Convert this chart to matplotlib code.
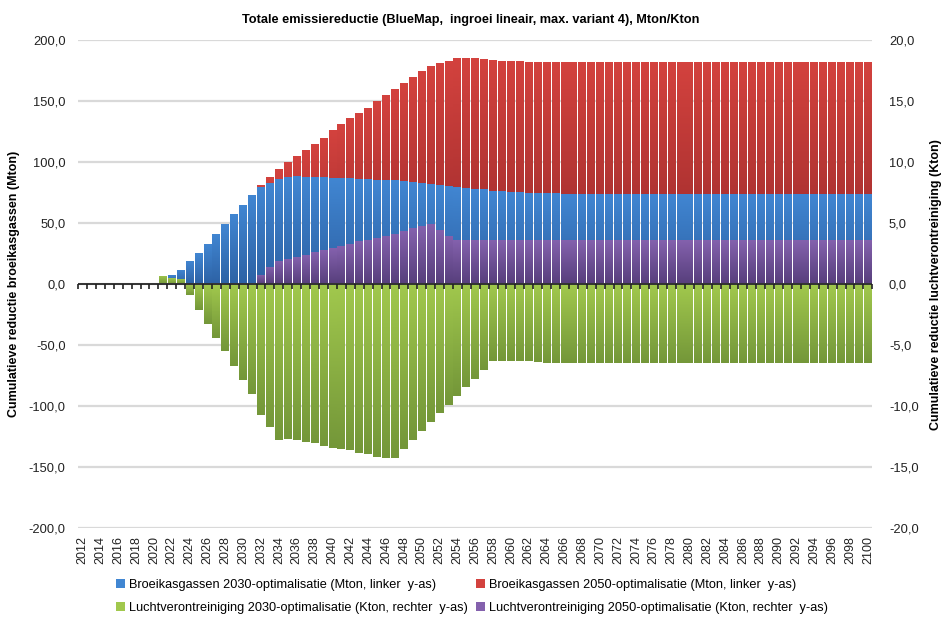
import numpy as np
import matplotlib
matplotlib.use("Agg")
import matplotlib.pyplot as plt
from matplotlib.colors import LinearSegmentedColormap
from matplotlib.ticker import FuncFormatter

plt.rcParams['font.family'] = ['Liberation Sans', 'DejaVu Sans']

years = list(range(2012, 2101))

# broeikasgassen 2030-optimalisatie (Mton), from 2022 on
ghg_2030 = [0.0] * 10 + [
    7.4, 11.5, 18.9, 25.4, 32.8, 41.0, 49.4, 57.6, 65.0, 73.2,
    79.8, 83.0, 86.3, 88.0, 89.0, 88.0, 88.0, 88.0, 87.3, 87.3,
    87.3, 86.5, 86.5, 85.7, 85.7, 85.7, 84.8, 84.0, 83.2, 82.4,
    81.6, 80.7, 79.9, 79.0, 78.3, 78.3, 76.6, 76.6, 75.8, 75.8,
    75.0, 75.0, 75.0, 75.0] + [74.0] * 35

# broeikasgassen 2050-optimalisatie (Mton), from 2032 on
ghg_2050 = [0.0] * 20 + [
    81.4, 88.0, 94.3, 100.0, 105.0, 110.0, 115.0, 120.0, 126.0, 131.0,
    136.0, 140.0, 144.7, 150.4, 155.3, 160.2, 165.0, 170.0, 175.0, 179.0,
    181.6, 183.2, 185.7, 185.7, 185.7, 184.8, 184.0, 183.2, 183.2, 183.2,
    182.4, 182.4, 182.4, 182.4] + [182.0] * 35

# luchtverontreiniging 2030-optimalisatie (Kton), from 2021 on
air_2030 = [0.0] * 9 + [
    0.68, 0.49, 0.43, -0.88, -2.10, -3.23, -4.40, -5.52, -6.70, -7.82,
    -8.97, -10.69, -11.74, -12.80, -12.73, -12.80, -12.98, -13.06, -13.23, -13.39,
    -13.55, -13.63, -13.80, -13.96, -14.13, -14.28, -14.28, -13.55, -12.80, -12.06,
    -11.33, -10.59, -9.93, -9.20, -8.47, -7.74, -7.00, -6.33, -6.33, -6.33,
    -6.33, -6.33, -6.42] + [-6.45] * 37

# luchtverontreiniging 2050-optimalisatie (Kton), from 2032 on
air_2050 = [0.0] * 20 + [
    0.74, 1.42, 1.89, 2.05, 2.20, 2.36, 2.60, 2.78, 2.95, 3.10,
    3.25, 3.50, 3.65, 3.81, 3.98, 4.14, 4.39, 4.57, 4.74, 4.90,
    4.41, 3.98] + [3.59] * 47

labels = [
    "Broeikasgassen 2030-optimalisatie (Mton, linker  y-as)",
    "Broeikasgassen 2050-optimalisatie (Mton, linker  y-as)",
    "Luchtverontreiniging 2030-optimalisatie (Kton, rechter  y-as)",
    "Luchtverontreiniging 2050-optimalisatie (Kton, rechter  y-as)",
]

# (top colour, bottom colour) of the bar gradients
blue = ("#4186d2", "#2d62a5")
red = ("#d3423e", "#98292a")
green = ("#a1c84d", "#749739")
purple = ("#8461ad", "#573f7c")

x = np.arange(len(years))


def gradient_bars(ax, vals, cols, z):
    bars = ax.bar(x, vals, width=0.88, color=cols[0], linewidth=0, zorder=z)
    cmap = LinearSegmentedColormap.from_list("g", [cols[0], cols[1]])
    grad = np.linspace(0, 1, 64).reshape(-1, 1)
    for b in bars:
        h = b.get_height()
        if h == 0:
            continue
        y0 = min(b.get_y(), b.get_y() + h)
        y1 = max(b.get_y(), b.get_y() + h)
        im = ax.imshow(grad, cmap=cmap, aspect="auto", origin="upper",
                       extent=[b.get_x(), b.get_x() + b.get_width(), y0, y1],
                       zorder=z + 0.1, interpolation="bilinear")
        im.set_clip_path(b)
    return bars


fig = plt.figure(figsize=(9.41, 6.17), dpi=100)
ax = fig.add_axes([0.083, 0.144, 0.844, 0.791])
ax2 = ax.twinx()

h_red = gradient_bars(ax, ghg_2050, red, 2)
h_blue = gradient_bars(ax, ghg_2030, blue, 3)
h_green = gradient_bars(ax2, air_2030, green, 2)
h_purple = gradient_bars(ax2, air_2050, purple, 3)

ax.set_xlim(-0.5, len(years) - 0.5)
ax.set_ylim(-200, 200)
ax2.set_ylim(-20, 20)
ax.set_yticks(np.arange(-200, 201, 50))
ax2.set_yticks(np.arange(-20, 21, 5))

fmt = FuncFormatter(lambda v, p: f"{v:.1f}".replace(".", ","))
ax.yaxis.set_major_formatter(fmt)
ax2.yaxis.set_major_formatter(fmt)

ax.set_axisbelow(True)
ax.yaxis.grid(True, color="#d9d9d9", linewidth=1.6)
for a in (ax, ax2):
    for s in a.spines.values():
        s.set_visible(False)
ax.tick_params(axis="y", length=0, labelsize=9.3, pad=9, colors="#222222")
ax2.tick_params(axis="y", length=0, labelsize=9.3, pad=12, colors="#222222")

ax.set_xticks(x[::2])
ax.set_xticklabels([str(y) for y in years[::2]], rotation=90, fontsize=9)
ax.tick_params(axis="x", length=0, pad=6, colors="#222222")

# zero axis with category tick marks, drawn above all bars
ax2.axhline(0, color="#333333", linewidth=1.4, zorder=6)
zero = ax2.secondary_xaxis(0.5)
zero.set_zorder(7)
zero.xaxis.set_ticks_position("bottom")
zero.set_xticks(np.arange(-0.5, len(years), 1.0))
zero.tick_params(axis="x", which="major", length=3.5, width=1.2, direction="out",
                 labelbottom=False, labeltop=False, color="#222222")
for s in zero.spines.values():
    s.set_visible(False)

ax.set_ylabel("Cumulatieve reductie broeikasgassen (Mton)", fontsize=9,
              fontweight="bold", labelpad=6)
ax2.set_ylabel("Cumulatieve reductie luchtverontreiniging (Kton)", fontsize=9,
               fontweight="bold", labelpad=8)

fig.text(0.5, 0.967, "Totale emissiereductie (BlueMap,  ingroei lineair, max. variant 4), Mton/Kton",
         ha="center", va="center", fontsize=9.2, fontweight="bold",
         family=["Liberation Sans Narrow", "Liberation Sans"])

fig.legend([h_blue, h_green, h_red, h_purple],
           [labels[0], labels[2], labels[1], labels[3]],
           ncol=2, loc="upper left", bbox_to_anchor=(0.123, 0.062),
           frameon=False, fontsize=9.2, handlelength=0.75, handleheight=0.75,
           handletextpad=0.3, columnspacing=0.6, labelspacing=0.85,
           borderpad=0, borderaxespad=0)

fig.savefig("out.png", dpi=100)
